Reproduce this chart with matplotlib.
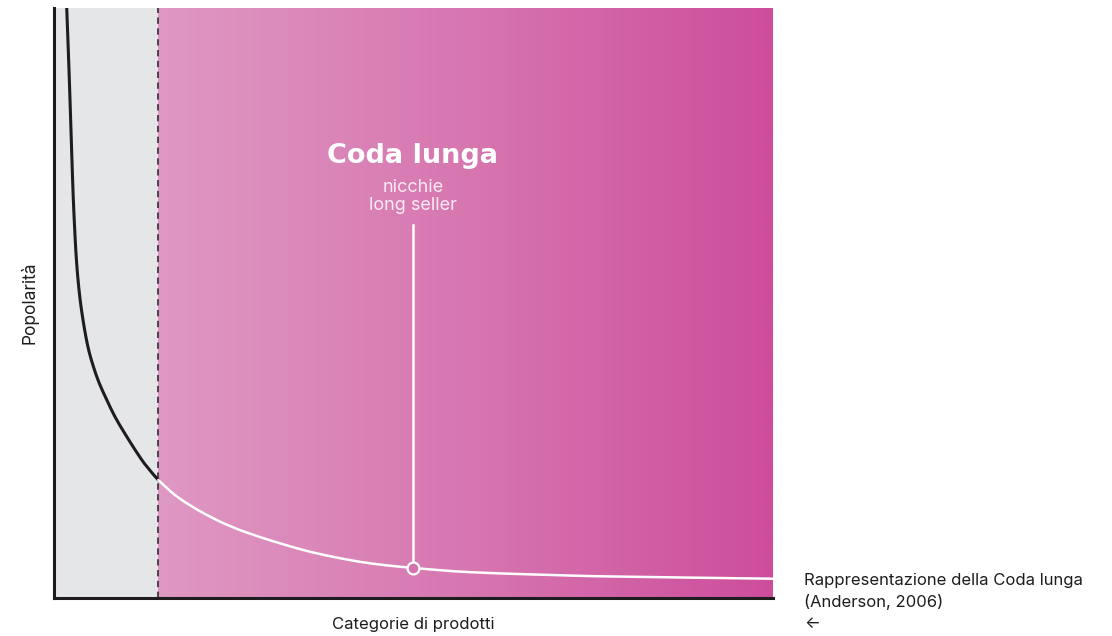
import numpy as np
import matplotlib
matplotlib.use("Agg")
import matplotlib.pyplot as plt
from matplotlib.colors import LinearSegmentedColormap
from matplotlib.path import Path
from matplotlib.patches import PathPatch

# Long-tail curve: product categories (0-100) vs. popularity (0-100)
categoria = [1.77, 1.99, 2.23, 2.45, 2.68, 2.85, 3.02, 3.27, 3.62, 4.03,
             4.45, 4.87, 5.47, 6.26, 7.33, 8.41, 9.78, 11.27, 12.93, 14.51,
             16.13, 17.52, 19.19, 21.00, 24.48, 28.65, 32.13, 35.61, 39.08,
             42.56, 46.31, 49.93, 53.69, 57.16, 63.42, 69.26, 74.55, 80.39,
             85.95, 91.52, 100.0]
popolarita = [100.0, 92.9, 84.4, 75.9, 67.5, 63.2, 59.0, 54.7, 50.5, 47.1,
              44.1, 41.7, 39.2, 36.4, 33.6, 30.8, 28.0, 25.1, 22.1, 20.0,
              18.1, 16.8, 15.5, 14.2, 12.1, 10.3, 9.0, 7.8, 6.9,
              6.1, 5.5, 5.1, 4.7, 4.4, 4.1, 3.9, 3.7, 3.6,
              3.5, 3.4, 3.27]

soglia_testa = 14.51          # end of the "head" (hits)
punto_coda = (49.93, 5.1)     # highlighted point of the long tail
cima_etichetta = 63.2         # top of the leader line

titolo = "Coda lunga"
sottotitolo = "nicchie\nlong seller"
etichetta_x = "Categorie di prodotti"
etichetta_y = "Popolarità"
didascalia = "Rappresentazione della Coda lunga\n(Anderson, 2006)\n←"


def curva_morbida(xs, ys):
    """Smooth quadratic-Bezier path using the points as control points."""
    pts = np.column_stack([xs, ys])
    verts = [pts[0]]
    codes = [Path.MOVETO]
    n = len(pts)
    for i in range(1, n - 1):
        fine = pts[i + 1] if i == n - 2 else (pts[i] + pts[i + 1]) / 2
        verts += [pts[i], fine]
        codes += [Path.CURVE3, Path.CURVE3]
    return Path(verts, codes)


fig = plt.figure(figsize=(11.12, 6.36), dpi=100)
ax = fig.add_axes([54 / 1112, 38 / 636, 719 / 1112, 590 / 636])
ax.set_xlim(0, 100)
ax.set_ylim(0, 100)

# head region (grey) and tail region (pink gradient)
ax.axvspan(0, soglia_testa, color="#E5E6E8", zorder=0, lw=0)
rosa = LinearSegmentedColormap.from_list("rosa", ["#DF98C3", "#D777B0", "#CD4D9C"])
grad = np.linspace(0, 1, 512).reshape(1, -1)
ax.imshow(grad, cmap=rosa, aspect="auto", extent=(soglia_testa, 100, 0, 100),
          zorder=0, interpolation="bicubic")

ax.axvline(soglia_testa, color="#3e3a3e", lw=1.3, ls=(0, (3.5, 2.5)), zorder=2)

x = np.array(categoria)
y = np.array(popolarita)
testa = x <= soglia_testa
coda = x >= soglia_testa
ax.add_patch(PathPatch(curva_morbida(x[testa], y[testa]), fill=False,
                       edgecolor="#1e1c1e", lw=2.2, capstyle="round",
                       joinstyle="round", zorder=3))
ax.add_patch(PathPatch(curva_morbida(x[coda], y[coda]), fill=False,
                       edgecolor="white", lw=1.8, capstyle="round",
                       joinstyle="round", zorder=3))

# leader line and marker
ax.plot([punto_coda[0], punto_coda[0]], [punto_coda[1], cima_etichetta],
        color="white", lw=1.8, zorder=4)
ax.plot([punto_coda[0]], [punto_coda[1]], marker="o", ms=8.5, mfc="#D570AC",
        mec="white", mew=1.6, zorder=5)

ax.text(punto_coda[0], 74.9, titolo, ha="center", va="center", color="white",
        fontsize=19.5, fontweight="bold", family="DejaVu Sans", zorder=6)
ax.text(punto_coda[0], 68.1, sottotitolo, ha="center", va="center",
        color="#FCEAF3", fontsize=13, family="Inter", linespacing=1.1, zorder=6)

for s in ("top", "right"):
    ax.spines[s].set_visible(False)
for s in ("left", "bottom"):
    ax.spines[s].set_linewidth(2.2)
    ax.spines[s].set_color("#1e1c1e")
ax.set_xticks([])
ax.set_yticks([])

fig.text(413 / 1112, 1 - 624 / 636, etichetta_x, ha="center", va="center",
         fontsize=12, family="Inter", color="#1e1c1e")
fig.text(30 / 1112, 1 - 303 / 636, etichetta_y, ha="center", va="center",
         rotation=90, fontsize=12.5, family="Inter", color="#1e1c1e")
fig.text(804 / 1112, 1 - 573 / 636, didascalia, ha="left", va="top",
         fontsize=12, family="Inter", color="#1e1c1e", linespacing=1.47)

fig.savefig("out.png", dpi=100)
